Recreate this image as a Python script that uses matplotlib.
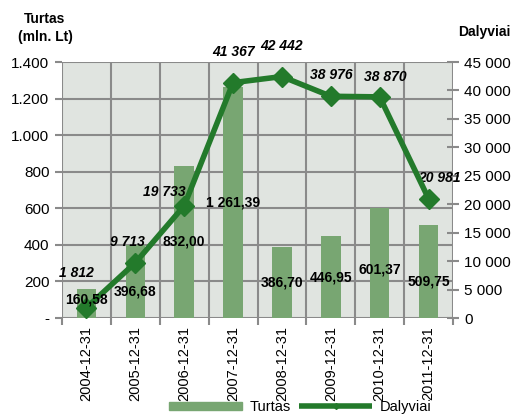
import matplotlib
matplotlib.use("Agg")
from matplotlib import pyplot as plt
from matplotlib.ticker import FixedLocator, FuncFormatter
from matplotlib.lines import Line2D
from matplotlib.patches import Patch

plt.rcParams['font.family'] = ['Liberation Sans Narrow', 'Liberation Sans', 'DejaVu Sans']

# data
dates = ['2004-12-31', '2005-12-31', '2006-12-31', '2007-12-31',
         '2008-12-31', '2009-12-31', '2010-12-31', '2011-12-31']
turtas = [160.58, 396.68, 832.00, 1261.39, 386.70, 446.95, 601.37, 509.75]
dalyviai = [1812, 9713, 19733, 41367, 42442, 38976, 38870, 20981]
turtas_labels = ['160,58', '396,68', '832,00', '1 261,39', '386,70', '446,95', '601,37', '509,75']
dalyviai_labels = ['1 812', '9 713', '19 733', '41 367', '42 442', '38 976', '38 870', '20 981']

# label nudges (points)
bar_lbl_dy = [3, -7, 0, 0, 0, 0, -5, -7]
line_lbl_off = [(-7, 25), (-6, 15), (-14, 10), (0, 22), (0, 22), (0, 15), (4, 14), (8, 15)]

bar_col = '#78a672'
line_col = '#237a2b'
grid_col = '#8a8a8a'

fig = plt.figure(figsize=(5.2, 4.16), dpi=100)
ax = fig.add_axes([62/520, 1 - 318/416, (453-62)/520, (318-62)/416])
ax.set_facecolor('#e0e4e0')
x = list(range(len(dates)))

ax.bar(x, turtas, width=0.4, color=bar_col, zorder=2)
ax.set_xlim(-0.5, len(dates) - 0.5)
ax.set_ylim(0, 1400)
ax.set_yticks(range(0, 1401, 200))
ax.yaxis.set_major_formatter(FuncFormatter(lambda v, p: '-' if v == 0 else f'{int(v):,}'.replace(',', '.')))
ax.set_xticks(x)
ax.set_xticklabels(dates, rotation=90, fontsize=10.5)
ax.xaxis.set_minor_locator(FixedLocator([i + 0.5 for i in range(-1, len(dates))]))
ax.tick_params(axis='x', which='major', length=0, pad=6)
ax.tick_params(axis='x', which='minor', length=5, color=grid_col, width=1.5)
ax.tick_params(axis='y', labelsize=11, length=5, color=grid_col, width=1.5, direction='out', pad=4)
ax.grid(True, axis='y', color=grid_col, linewidth=1.5, zorder=1)
ax.grid(True, axis='x', which='minor', color=grid_col, linewidth=1.5, zorder=1)
for s in ax.spines.values():
    s.set_visible(False)

ax2 = ax.twinx()
ax2.set_ylim(0, 45000)
ax2.set_yticks(range(0, 45001, 5000))
ax2.yaxis.set_major_formatter(FuncFormatter(lambda v, p: f'{int(v):,}'.replace(',', ' ')))
ax2.tick_params(axis='y', labelsize=11, length=8, color=grid_col, width=1.5, direction='inout', pad=4)
for s in ax2.spines.values():
    s.set_visible(False)
ax2.plot(x, dalyviai, color=line_col, linewidth=4, marker='D', markersize=10, zorder=4)
for i, v in enumerate(dalyviai):
    ax2.annotate(dalyviai_labels[i], (i, v), xytext=line_lbl_off[i], textcoords='offset points',
                 ha='center', va='center', fontsize=10, fontweight='bold', fontstyle='italic')

# bar labels drawn over the line
for i, v in enumerate(turtas):
    ax2.annotate(turtas_labels[i], (i, v / 2), xycoords=ax.transData, xytext=(0, bar_lbl_dy[i]),
                 textcoords='offset points', ha='center', va='center', fontsize=10,
                 fontweight='bold', zorder=6)

fig.text(45/520, 1 - 28/416, 'Turtas\n(mln. Lt)', ha='center', va='center',
         fontsize=10, fontweight='bold', linespacing=1.3)
fig.text(484/520, 1 - 32/416, 'Dalyviai', ha='center', va='center',
         fontsize=10, fontweight='bold')

handles = [Patch(color=bar_col),
           Line2D([], [], color=line_col, linewidth=4, marker='D', markersize=3,
                  solid_capstyle='butt')]
fig.legend(handles, ['Turtas', 'Dalyviai'], loc='center', bbox_to_anchor=(300/520, 1 - 407/416),
           ncol=2, frameon=False, fontsize=10.5, handlelength=5, handleheight=0.45,
           columnspacing=0.6, handletextpad=0.5, borderaxespad=0)

fig.savefig('out.png', dpi=100)
